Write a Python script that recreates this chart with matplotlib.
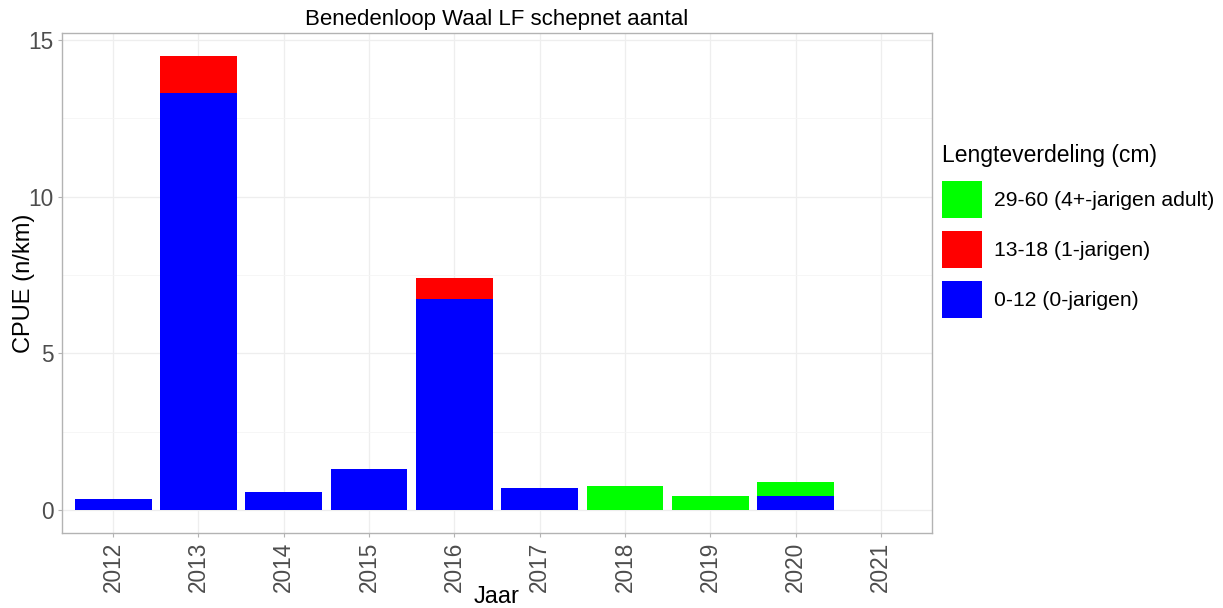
import matplotlib
matplotlib.use("Agg")
import matplotlib.pyplot as plt
from matplotlib.patches import Patch
import numpy as np

plt.rcParams['font.family'] = ['Liberation Sans', 'DejaVu Sans']

years = ['2012', '2013', '2014', '2015', '2016', '2017', '2018', '2019', '2020', '2021']
cls_0_12 = [0.35, 13.31, 0.57, 1.30, 6.72, 0.71, 0.0, 0.0, 0.45, 0.0]
cls_13_18 = [0.0, 1.18, 0.0, 0.0, 0.67, 0.0, 0.0, 0.0, 0.0, 0.0]
cls_29_60 = [0.0, 0.0, 0.0, 0.0, 0.0, 0.0, 0.77, 0.47, 0.46, 0.0]

labels = ['29-60 (4+-jarigen adult)', '13-18 (1-jarigen)', '0-12 (0-jarigen)']
colors = ['#00FF00', '#FF0000', '#0000FF']

fig = plt.figure(figsize=(12.23, 6.08), dpi=100)
ax = fig.add_axes([62/1223, 75/608, 870/1223, 500/608])

x = np.arange(len(years))
b0 = np.array(cls_0_12)
b1 = np.array(cls_13_18)
b2 = np.array(cls_29_60)
ax.bar(x, b0, width=0.9, color=colors[2], zorder=3)
ax.bar(x, b1, width=0.9, bottom=b0, color=colors[1], zorder=3)
ax.bar(x, b2, width=0.9, bottom=b0 + b1, color=colors[0], zorder=3)

ax.set_xlim(-0.6, len(years) - 0.4)
ymax = (b0 + b1 + b2).max()
ax.set_ylim(-0.05 * ymax, ymax * 1.05)
ax.set_yticks([0, 5, 10, 15])
ax.set_yticks([2.5, 7.5, 12.5], minor=True)
ax.set_xticks(x)
ax.set_xticklabels(years, rotation=90)
ax.tick_params(axis='both', labelsize=16.3, colors='#B3B3B3', labelcolor='#4D4D4D', length=3, width=0.8, pad=3)
ax.tick_params(axis='y', which='minor', length=0)
ax.grid(True, which='major', color='#EEEEEE', linewidth=0.9, zorder=0)
ax.grid(True, which='minor', axis='y', color='#F5F5F5', linewidth=0.6, zorder=0)
for s in ax.spines.values():
    s.set_color('#B3B3B3')
    s.set_linewidth(1.0)

ax.set_title('Benedenloop Waal LF schepnet aantal', fontsize=16, pad=6)
ax.set_xlabel('Jaar', fontsize=17)
ax.set_ylabel('CPUE (n/km)', fontsize=17)
ax.xaxis.set_label_coords(0.5, (11 - 75) / 500)
ax.xaxis.label.set_va('center')
ax.yaxis.set_label_coords((24 - 62) / 870, 0.5)
ax.yaxis.label.set_va('center')

handles = [Patch(facecolor=c, edgecolor='none') for c in colors]
leg = fig.legend(handles, labels, loc='upper left', bbox_to_anchor=(934/1223, 472/608),
                 frameon=False, fontsize=15.2, title='Lengteverdeling (cm)', title_fontsize=16.5,
                 handlelength=1.85, handleheight=2.33, labelspacing=0.62, handletextpad=0.6,
                 borderaxespad=0, alignment='left')

fig.savefig('out.png', dpi=100)
